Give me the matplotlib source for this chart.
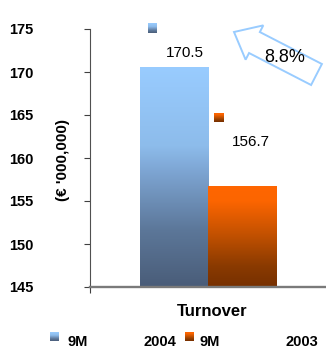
import numpy as np
import matplotlib
matplotlib.use("Agg")
import matplotlib.pyplot as plt
from matplotlib.patches import Polygon
from matplotlib.colors import to_rgb

plt.rcParams['font.family'] = ['Liberation Sans', 'DejaVu Sans']

# ---- data ----
category = "Turnover"
series_names = ["9M 2004", "9M 2003"]
values = [170.5, 156.7]
value_labels = ["170.5", "156.7"]
yticks = [145, 150, 155, 160, 165, 170, 175]
growth_label = "8.8%"
ylabel = "(€ '000,000)"

# gradient stops (fraction from top, colour)
blue_stops = [(0.0, "#99CCFF"), (0.36, "#8DBCEB"), (0.47, "#7EA6D4"),
              (0.745, "#5C7799"), (1.0, "#4A5D79")]
orange_stops = [(0.0, "#FF6600"), (0.15, "#FC6500"), (0.5, "#C05000"),
                (0.8, "#8A3A00"), (1.0, "#773000")]


def grad(stops, n=256):
    f = np.linspace(0, 1, n)
    pos = [s[0] for s in stops]
    cols = np.array([to_rgb(s[1]) for s in stops])
    rgb = np.stack([np.interp(f, pos, cols[:, k]) for k in range(3)], axis=-1)
    return rgb[:, None, :]


W, H = 326, 349
fig = plt.figure(figsize=(W / 100, H / 100), dpi=100)

ax = fig.add_axes([90 / W, 1 - 287 / H, (W - 90) / W, (287 - 29) / H])
ax.set_facecolor("none")

bar_w = 0.29
centers = [0.5 - bar_w / 2, 0.5 + bar_w / 2]
stops_list = [blue_stops, orange_stops]
ymin, ymax = yticks[0], yticks[-1]
for c, v, st in zip(centers, values, stops_list):
    ax.imshow(grad(st), extent=(c - bar_w / 2, c + bar_w / 2, ymin + 0.15, v),
              origin="upper", aspect="auto", interpolation="bilinear", zorder=2)

# data labels
label_off = [(0.0475, 1.74), (0.037, 5.2)]
for c, v, t, (dx, dy) in zip(centers, values, value_labels, label_off):
    ax.text(c + dx, v + dy, t, ha="center", va="center", fontsize=11, color="black")

ax.set_xlim(0, 1)
ax.set_ylim(ymin, ymax)
ax.set_yticks(yticks)
ax.set_yticklabels([str(t) for t in yticks], fontsize=10.5, fontweight="bold")
ax.tick_params(axis="y", direction="out", length=4, width=0.8, color="#404040", pad=36.5)
ax.set_xticks([0])
ax.set_xticklabels([""])
ax.tick_params(axis="x", direction="out", length=4, width=0.8, color="#404040")
for s in ["top", "right"]:
    ax.spines[s].set_visible(False)
ax.spines["left"].set_color("#505050")
ax.spines["left"].set_linewidth(0.8)
ax.spines["bottom"].set_color("#7A7A7A")
ax.spines["bottom"].set_linewidth(1.7)

# ---- overlay in pixel coordinates for decorations ----
ov = fig.add_axes([0, 0, 1, 1], zorder=5)
ov.set_facecolor("none")
ov.axis("off")

# arrow
T = np.array([234.0, 32.0])
tail_c = np.array([316.5, 74.5])
u = (tail_c - T) / np.linalg.norm(tail_c - T)
L = np.linalg.norm(tail_c - T)
n = np.array([-u[1], u[0]])
B = T + 23 * u
pts = [T, B + 19.3 * n, B + 11.8 * n, T + L * u + 11.8 * n,
       T + L * u - 11.8 * n, B - 11.8 * n, B - 19.3 * n]
ov.add_patch(Polygon(pts, closed=True, fill=False, edgecolor="#99CCFF", lw=1.4))
ov.text(285, 57, growth_label, ha="center", va="center", fontsize=13, color="black")

# gradient squares (stray keys on chart and legend keys)
squares = [((148, 157, 23, 33), blue_stops), ((214, 224, 113, 122), orange_stops),
           ((50, 59, 332, 341), blue_stops), ((185, 194, 332, 341), orange_stops)]
for (x0, x1, y0, y1), st in squares:
    ov.imshow(grad(st), extent=(x0, x1, y1, y0), origin="upper", aspect="auto",
              interpolation="bilinear")

# category label and legend text
ov.text(212, 311, category, ha="center", va="center", fontsize=12, fontweight="bold")
leg_parts = [(67, "9M"), (143, "2004"), (200, "9M"), (285, "2003")]
for x, t in leg_parts:
    ov.text(x, 346.5, t, ha="left", va="baseline", fontsize=10.5, fontweight="bold")

# y label
ov.text(63, 160, ylabel, ha="center", va="center", rotation=90, fontsize=11,
        fontweight="bold")

ov.set_xlim(0, W)
ov.set_ylim(H, 0)

fig.savefig("out.png", dpi=100)
